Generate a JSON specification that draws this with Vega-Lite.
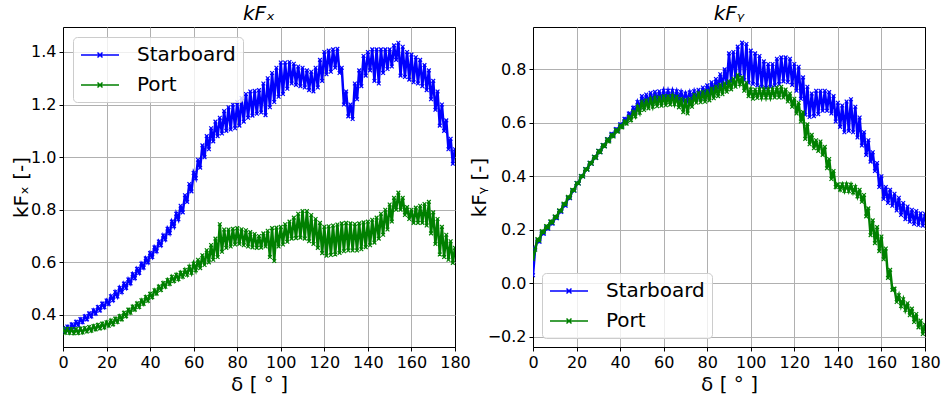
{
"$schema":"https://vega.github.io/schema/vega-lite/v6.json",
"padding":{"left":10,"top":3,"right":5,"bottom":5},
"background":"white",
"datasets":{"pts":[
{"d":0,"xS":0.35,"xP":0.348,"yS":0.03,"yP":0.09},
{"d":1,"xS":0.338,"xP":0.332,"yS":0.13,"yP":0.125},
{"d":2,"xS":0.356,"xP":0.347,"yS":0.16,"yP":0.165},
{"d":3,"xS":0.343,"xP":0.331,"yS":0.155,"yP":0.16},
{"d":4,"xS":0.364,"xP":0.346,"yS":0.19,"yP":0.195},
{"d":5,"xS":0.352,"xP":0.33,"yS":0.185,"yP":0.19},
{"d":6,"xS":0.374,"xP":0.346,"yS":0.209,"yP":0.214},
{"d":7,"xS":0.362,"xP":0.331,"yS":0.204,"yP":0.208},
{"d":8,"xS":0.384,"xP":0.348,"yS":0.229,"yP":0.232},
{"d":9,"xS":0.372,"xP":0.333,"yS":0.223,"yP":0.226},
{"d":10,"xS":0.395,"xP":0.35,"yS":0.248,"yP":0.25},
{"d":11,"xS":0.383,"xP":0.337,"yS":0.243,"yP":0.246},
{"d":12,"xS":0.406,"xP":0.354,"yS":0.27,"yP":0.273},
{"d":13,"xS":0.394,"xP":0.34,"yS":0.267,"yP":0.27},
{"d":14,"xS":0.418,"xP":0.358,"yS":0.294,"yP":0.298},
{"d":15,"xS":0.405,"xP":0.345,"yS":0.29,"yP":0.295},
{"d":16,"xS":0.43,"xP":0.362,"yS":0.319,"yP":0.323},
{"d":17,"xS":0.417,"xP":0.349,"yS":0.318,"yP":0.32},
{"d":18,"xS":0.443,"xP":0.367,"yS":0.347,"yP":0.35},
{"d":19,"xS":0.429,"xP":0.352,"yS":0.346,"yP":0.347},
{"d":20,"xS":0.455,"xP":0.372,"yS":0.375,"yP":0.375},
{"d":21,"xS":0.442,"xP":0.359,"yS":0.373,"yP":0.373},
{"d":22,"xS":0.471,"xP":0.379,"yS":0.401,"yP":0.401},
{"d":23,"xS":0.456,"xP":0.364,"yS":0.399,"yP":0.399},
{"d":24,"xS":0.487,"xP":0.386,"yS":0.427,"yP":0.427},
{"d":25,"xS":0.47,"xP":0.373,"yS":0.425,"yP":0.425},
{"d":26,"xS":0.503,"xP":0.396,"yS":0.451,"yP":0.451},
{"d":27,"xS":0.487,"xP":0.383,"yS":0.447,"yP":0.447},
{"d":28,"xS":0.519,"xP":0.408,"yS":0.473,"yP":0.473},
{"d":29,"xS":0.503,"xP":0.395,"yS":0.469,"yP":0.469},
{"d":30,"xS":0.535,"xP":0.42,"yS":0.495,"yP":0.495},
{"d":31,"xS":0.52,"xP":0.408,"yS":0.49,"yP":0.49},
{"d":32,"xS":0.555,"xP":0.432,"yS":0.517,"yP":0.517},
{"d":33,"xS":0.54,"xP":0.42,"yS":0.513,"yP":0.512},
{"d":34,"xS":0.575,"xP":0.444,"yS":0.539,"yP":0.538},
{"d":35,"xS":0.56,"xP":0.43,"yS":0.535,"yP":0.53},
{"d":36,"xS":0.595,"xP":0.456,"yS":0.559,"yP":0.555},
{"d":37,"xS":0.58,"xP":0.442,"yS":0.553,"yP":0.549},
{"d":38,"xS":0.615,"xP":0.468,"yS":0.577,"yP":0.573},
{"d":39,"xS":0.6,"xP":0.454,"yS":0.571,"yP":0.567},
{"d":40,"xS":0.635,"xP":0.48,"yS":0.595,"yP":0.59},
{"d":41,"xS":0.62,"xP":0.467,"yS":0.589,"yP":0.583},
{"d":42,"xS":0.657,"xP":0.494,"yS":0.615,"yP":0.606},
{"d":43,"xS":0.642,"xP":0.481,"yS":0.607,"yP":0.597},
{"d":44,"xS":0.679,"xP":0.508,"yS":0.635,"yP":0.622},
{"d":45,"xS":0.665,"xP":0.495,"yS":0.625,"yP":0.61},
{"d":46,"xS":0.702,"xP":0.521,"yS":0.656,"yP":0.64},
{"d":47,"xS":0.687,"xP":0.507,"yS":0.641,"yP":0.624},
{"d":48,"xS":0.728,"xP":0.533,"yS":0.678,"yP":0.66},
{"d":49,"xS":0.711,"xP":0.518,"yS":0.657,"yP":0.638},
{"d":50,"xS":0.755,"xP":0.545,"yS":0.7,"yP":0.68},
{"d":51,"xS":0.737,"xP":0.529,"yS":0.668,"yP":0.648},
{"d":52,"xS":0.785,"xP":0.553,"yS":0.706,"yP":0.684},
{"d":53,"xS":0.764,"xP":0.536,"yS":0.674,"yP":0.654},
{"d":54,"xS":0.815,"xP":0.561,"yS":0.712,"yP":0.688},
{"d":55,"xS":0.79,"xP":0.545,"yS":0.68,"yP":0.66},
{"d":56,"xS":0.855,"xP":0.571,"yS":0.716,"yP":0.692},
{"d":57,"xS":0.83,"xP":0.553,"yS":0.684,"yP":0.662},
{"d":58,"xS":0.898,"xP":0.583,"yS":0.718,"yP":0.696},
{"d":59,"xS":0.87,"xP":0.56,"yS":0.688,"yP":0.664},
{"d":60,"xS":0.94,"xP":0.595,"yS":0.72,"yP":0.7},
{"d":61,"xS":0.92,"xP":0.57,"yS":0.69,"yP":0.666},
{"d":62,"xS":0.99,"xP":0.61,"yS":0.72,"yP":0.7},
{"d":63,"xS":0.96,"xP":0.578,"yS":0.69,"yP":0.668},
{"d":64,"xS":1.045,"xP":0.627,"yS":0.72,"yP":0.7},
{"d":65,"xS":1.0,"xP":0.59,"yS":0.69,"yP":0.67},
{"d":66,"xS":1.08,"xP":0.646,"yS":0.718,"yP":0.698},
{"d":67,"xS":1.03,"xP":0.6,"yS":0.688,"yP":0.658},
{"d":68,"xS":1.11,"xP":0.666,"yS":0.715,"yP":0.69},
{"d":69,"xS":1.06,"xP":0.61,"yS":0.686,"yP":0.64},
{"d":70,"xS":1.135,"xP":0.69,"yS":0.71,"yP":0.685},
{"d":71,"xS":1.08,"xP":0.62,"yS":0.685,"yP":0.635},
{"d":72,"xS":1.15,"xP":0.745,"yS":0.714,"yP":0.69},
{"d":73,"xS":1.09,"xP":0.64,"yS":0.688,"yP":0.66},
{"d":74,"xS":1.175,"xP":0.725,"yS":0.718,"yP":0.705},
{"d":75,"xS":1.1,"xP":0.655,"yS":0.69,"yP":0.675},
{"d":76,"xS":1.19,"xP":0.725,"yS":0.724,"yP":0.712},
{"d":77,"xS":1.105,"xP":0.66,"yS":0.693,"yP":0.677},
{"d":78,"xS":1.2,"xP":0.728,"yS":0.732,"yP":0.716},
{"d":79,"xS":1.11,"xP":0.668,"yS":0.7,"yP":0.679},
{"d":80,"xS":1.21,"xP":0.73,"yS":0.74,"yP":0.72},
{"d":81,"xS":1.12,"xP":0.67,"yS":0.71,"yP":0.684},
{"d":82,"xS":1.225,"xP":0.726,"yS":0.752,"yP":0.728},
{"d":83,"xS":1.135,"xP":0.665,"yS":0.716,"yP":0.692},
{"d":84,"xS":1.24,"xP":0.722,"yS":0.764,"yP":0.736},
{"d":85,"xS":1.15,"xP":0.66,"yS":0.73,"yP":0.7},
{"d":86,"xS":1.25,"xP":0.715,"yS":0.782,"yP":0.742},
{"d":87,"xS":1.158,"xP":0.657,"yS":0.735,"yP":0.707},
{"d":88,"xS":1.252,"xP":0.708,"yS":0.8,"yP":0.748},
{"d":89,"xS":1.165,"xP":0.655,"yS":0.745,"yP":0.716},
{"d":90,"xS":1.255,"xP":0.7,"yS":0.86,"yP":0.755},
{"d":91,"xS":1.17,"xP":0.656,"yS":0.755,"yP":0.725},
{"d":92,"xS":1.28,"xP":0.71,"yS":0.865,"yP":0.765},
{"d":93,"xS":1.16,"xP":0.66,"yS":0.77,"yP":0.735},
{"d":94,"xS":1.3,"xP":0.72,"yS":0.885,"yP":0.78},
{"d":95,"xS":1.19,"xP":0.62,"yS":0.775,"yP":0.745},
{"d":96,"xS":1.32,"xP":0.73,"yS":0.9,"yP":0.77},
{"d":97,"xS":1.21,"xP":0.605,"yS":0.76,"yP":0.72},
{"d":98,"xS":1.34,"xP":0.732,"yS":0.895,"yP":0.75},
{"d":99,"xS":1.23,"xP":0.66,"yS":0.75,"yP":0.7},
{"d":100,"xS":1.36,"xP":0.735,"yS":0.87,"yP":0.725},
{"d":101,"xS":1.24,"xP":0.668,"yS":0.745,"yP":0.69},
{"d":102,"xS":1.36,"xP":0.745,"yS":0.86,"yP":0.725},
{"d":103,"xS":1.26,"xP":0.678,"yS":0.74,"yP":0.693},
{"d":104,"xS":1.362,"xP":0.755,"yS":0.85,"yP":0.725},
{"d":105,"xS":1.28,"xP":0.69,"yS":0.735,"yP":0.695},
{"d":106,"xS":1.355,"xP":0.77,"yS":0.83,"yP":0.725},
{"d":107,"xS":1.275,"xP":0.692,"yS":0.73,"yP":0.695},
{"d":108,"xS":1.345,"xP":0.785,"yS":0.82,"yP":0.725},
{"d":109,"xS":1.27,"xP":0.694,"yS":0.735,"yP":0.695},
{"d":110,"xS":1.34,"xP":0.795,"yS":0.82,"yP":0.725},
{"d":111,"xS":1.265,"xP":0.69,"yS":0.74,"yP":0.695},
{"d":112,"xS":1.33,"xP":0.795,"yS":0.84,"yP":0.732},
{"d":113,"xS":1.255,"xP":0.68,"yS":0.745,"yP":0.695},
{"d":114,"xS":1.325,"xP":0.78,"yS":0.845,"yP":0.735},
{"d":115,"xS":1.25,"xP":0.67,"yS":0.755,"yP":0.695},
{"d":116,"xS":1.34,"xP":0.765,"yS":0.845,"yP":0.725},
{"d":117,"xS":1.265,"xP":0.655,"yS":0.752,"yP":0.68},
{"d":118,"xS":1.37,"xP":0.75,"yS":0.84,"yP":0.71},
{"d":119,"xS":1.29,"xP":0.635,"yS":0.742,"yP":0.66},
{"d":120,"xS":1.4,"xP":0.735,"yS":0.82,"yP":0.69},
{"d":121,"xS":1.315,"xP":0.625,"yS":0.72,"yP":0.635},
{"d":122,"xS":1.405,"xP":0.737,"yS":0.81,"yP":0.675},
{"d":123,"xS":1.325,"xP":0.628,"yS":0.69,"yP":0.605},
{"d":124,"xS":1.41,"xP":0.74,"yS":0.77,"yP":0.64},
{"d":125,"xS":1.34,"xP":0.63,"yS":0.63,"yP":0.54},
{"d":126,"xS":1.412,"xP":0.744,"yS":0.735,"yP":0.595},
{"d":127,"xS":1.32,"xP":0.636,"yS":0.622,"yP":0.52},
{"d":128,"xS":1.34,"xP":0.748,"yS":0.71,"yP":0.555},
{"d":129,"xS":1.2,"xP":0.642,"yS":0.625,"yP":0.505},
{"d":130,"xS":1.25,"xP":0.75,"yS":0.72,"yP":0.535},
{"d":131,"xS":1.155,"xP":0.645,"yS":0.632,"yP":0.495},
{"d":132,"xS":1.2,"xP":0.748,"yS":0.72,"yP":0.53},
{"d":133,"xS":1.145,"xP":0.645,"yS":0.645,"yP":0.48},
{"d":134,"xS":1.28,"xP":0.746,"yS":0.72,"yP":0.51},
{"d":135,"xS":1.22,"xP":0.645,"yS":0.645,"yP":0.43},
{"d":136,"xS":1.33,"xP":0.748,"yS":0.715,"yP":0.465},
{"d":137,"xS":1.27,"xP":0.65,"yS":0.635,"yP":0.39},
{"d":138,"xS":1.385,"xP":0.752,"yS":0.7,"yP":0.42},
{"d":139,"xS":1.31,"xP":0.658,"yS":0.605,"yP":0.36},
{"d":140,"xS":1.4,"xP":0.755,"yS":0.675,"yP":0.37},
{"d":141,"xS":1.33,"xP":0.665,"yS":0.585,"yP":0.35},
{"d":142,"xS":1.41,"xP":0.762,"yS":0.665,"yP":0.37},
{"d":143,"xS":1.29,"xP":0.675,"yS":0.565,"yP":0.345},
{"d":144,"xS":1.41,"xP":0.77,"yS":0.68,"yP":0.37},
{"d":145,"xS":1.28,"xP":0.69,"yS":0.57,"yP":0.345},
{"d":146,"xS":1.41,"xP":0.785,"yS":0.688,"yP":0.368},
{"d":147,"xS":1.32,"xP":0.705,"yS":0.565,"yP":0.34},
{"d":148,"xS":1.41,"xP":0.8,"yS":0.66,"yP":0.36},
{"d":149,"xS":1.335,"xP":0.725,"yS":0.545,"yP":0.325},
{"d":150,"xS":1.41,"xP":0.82,"yS":0.62,"yP":0.35},
{"d":151,"xS":1.345,"xP":0.755,"yS":0.515,"yP":0.305},
{"d":152,"xS":1.425,"xP":0.845,"yS":0.565,"yP":0.33},
{"d":153,"xS":1.37,"xP":0.8,"yS":0.48,"yP":0.25},
{"d":154,"xS":1.435,"xP":0.865,"yS":0.535,"yP":0.28},
{"d":155,"xS":1.31,"xP":0.8,"yS":0.455,"yP":0.18},
{"d":156,"xS":1.42,"xP":0.845,"yS":0.49,"yP":0.235},
{"d":157,"xS":1.305,"xP":0.78,"yS":0.42,"yP":0.15},
{"d":158,"xS":1.4,"xP":0.81,"yS":0.45,"yP":0.21},
{"d":159,"xS":1.295,"xP":0.765,"yS":0.36,"yP":0.12},
{"d":160,"xS":1.39,"xP":0.8,"yS":0.4,"yP":0.175},
{"d":161,"xS":1.285,"xP":0.75,"yS":0.315,"yP":0.09},
{"d":162,"xS":1.38,"xP":0.808,"yS":0.36,"yP":0.13},
{"d":163,"xS":1.28,"xP":0.75,"yS":0.3,"yP":0.02},
{"d":164,"xS":1.37,"xP":0.815,"yS":0.35,"yP":0.05},
{"d":165,"xS":1.27,"xP":0.75,"yS":0.29,"yP":-0.025},
{"d":166,"xS":1.35,"xP":0.822,"yS":0.335,"yP":-0.02},
{"d":167,"xS":1.255,"xP":0.74,"yS":0.272,"yP":-0.07},
{"d":168,"xS":1.33,"xP":0.83,"yS":0.32,"yP":-0.045},
{"d":169,"xS":1.22,"xP":0.71,"yS":0.255,"yP":-0.085},
{"d":170,"xS":1.29,"xP":0.79,"yS":0.3,"yP":-0.06},
{"d":171,"xS":1.18,"xP":0.67,"yS":0.24,"yP":-0.1},
{"d":172,"xS":1.25,"xP":0.765,"yS":0.287,"yP":-0.075},
{"d":173,"xS":1.12,"xP":0.63,"yS":0.23,"yP":-0.12},
{"d":174,"xS":1.2,"xP":0.735,"yS":0.275,"yP":-0.095},
{"d":175,"xS":1.1,"xP":0.62,"yS":0.222,"yP":-0.145},
{"d":176,"xS":1.14,"xP":0.705,"yS":0.27,"yP":-0.115},
{"d":177,"xS":1.03,"xP":0.61,"yS":0.218,"yP":-0.165},
{"d":178,"xS":1.07,"xP":0.68,"yS":0.262,"yP":-0.14},
{"d":179,"xS":0.975,"xP":0.598,"yS":0.215,"yP":-0.19},
{"d":180,"xS":1.03,"xP":0.655,"yS":0.26,"yP":-0.155}
]},
"spacing":78,
"bounds":"flush",
"resolve":{"scale":{"color":"independent"},"legend":{"color":"independent"}},
"hconcat":[
{
"width":392,"height":320,
"data":{"name":"pts"},
"title":{"text":"kFₓ","fontStyle":"italic"},
"layer":[
{"mark":{"type":"line","strokeWidth":2.5,"clip":true,"point":{"shape":"M-1,-1L1,1M-1,1L1,-1","filled":false,"size":14,"strokeWidth":1.2,"clip":true}},
"encoding":{
"x":{"field":"d","type":"quantitative","scale":{"domain":[0,180],"nice":false,"zero":false},"axis":{"title":"δ [ ° ]","values":[0,20,40,60,80,100,120,140,160,180]}},
"y":{"field":"xS","type":"quantitative","scale":{"domain":[0.278,1.495],"nice":false,"zero":false},"axis":{"title":"kFₓ [-]","values":[0.4,0.6,0.8,1.0,1.2,1.4],"format":".1f","minExtent":30,"maxExtent":30}},
"color":{"datum":"Starboard","scale":{"domain":["Starboard","Port"],"range":["#0000ff","#008000"]},"legend":{"orient":"top-left","offset":10,"title":null}}}},
{"mark":{"type":"line","strokeWidth":2.5,"clip":true,"point":{"shape":"M-1,-1L1,1M-1,1L1,-1","filled":false,"size":14,"strokeWidth":1.2,"clip":true}},
"encoding":{
"x":{"field":"d","type":"quantitative","scale":{"domain":[0,180],"nice":false,"zero":false},"axis":{"title":"δ [ ° ]","values":[0,20,40,60,80,100,120,140,160,180]}},
"y":{"field":"xP","type":"quantitative","scale":{"domain":[0.278,1.495],"nice":false,"zero":false},"axis":{"title":"kFₓ [-]","values":[0.4,0.6,0.8,1.0,1.2,1.4],"format":".1f","minExtent":30,"maxExtent":30}},
"color":{"datum":"Port","scale":{"domain":["Starboard","Port"],"range":["#0000ff","#008000"]},"legend":{"orient":"top-left","offset":10,"title":null}}}}
]
},
{
"width":392,"height":320,
"data":{"name":"pts"},
"title":{"text":"kFᵧ","fontStyle":"italic"},
"layer":[
{"mark":{"type":"line","strokeWidth":2.5,"clip":true,"point":{"shape":"M-1,-1L1,1M-1,1L1,-1","filled":false,"size":14,"strokeWidth":1.2,"clip":true}},
"encoding":{
"x":{"field":"d","type":"quantitative","scale":{"domain":[0,180],"nice":false,"zero":false},"axis":{"title":"δ [ ° ]","values":[0,20,40,60,80,100,120,140,160,180]}},
"y":{"field":"yS","type":"quantitative","scale":{"domain":[-0.2385,0.9585],"nice":false,"zero":false},"axis":{"title":"kFᵧ [-]","values":[-0.2,0.0,0.2,0.4,0.6,0.8],"format":".1f","minExtent":42,"maxExtent":42}},
"color":{"datum":"Starboard","scale":{"domain":["Starboard","Port"],"range":["#0000ff","#008000"]},"legend":{"orient":"bottom-left","offset":9,"title":null}}}},
{"mark":{"type":"line","strokeWidth":2.5,"clip":true,"point":{"shape":"M-1,-1L1,1M-1,1L1,-1","filled":false,"size":14,"strokeWidth":1.2,"clip":true}},
"encoding":{
"x":{"field":"d","type":"quantitative","scale":{"domain":[0,180],"nice":false,"zero":false},"axis":{"title":"δ [ ° ]","values":[0,20,40,60,80,100,120,140,160,180]}},
"y":{"field":"yP","type":"quantitative","scale":{"domain":[-0.2385,0.9585],"nice":false,"zero":false},"axis":{"title":"kFᵧ [-]","values":[-0.2,0.0,0.2,0.4,0.6,0.8],"format":".1f","minExtent":42,"maxExtent":42}},
"color":{"datum":"Port","scale":{"domain":["Starboard","Port"],"range":["#0000ff","#008000"]},"legend":{"orient":"bottom-left","offset":9,"title":null}}}}
]
}
],
"config":{
"font":"DejaVu Sans",
"view":{"stroke":"black","strokeWidth":1},
"title":{"fontSize":20,"fontWeight":"normal","offset":3,"color":"black","font":"DejaVu Sans"},
"axis":{"labelFontSize":16,"titleFontSize":20,"titleFontWeight":"normal","labelColor":"black","titleColor":"black","domainColor":"black","tickColor":"black","tickSize":4,"labelPadding":3,"titlePadding":2,"gridColor":{"condition":{"test":"datum.value==180","value":"black"},"value":"#b0b0b0"},"gridWidth":1,"labelFlush":false,"labelOverlap":false,"labelFont":"DejaVu Sans","titleFont":"DejaVu Sans"},
"axisX":{"titlePadding":4},
"legend":{"labelFontSize":20,"labelColor":"black","labelFont":"DejaVu Sans","fillColor":"rgba(255,255,255,0.8)","strokeColor":"#cccccc","cornerRadius":4,"padding":7,"symbolSize":400,"symbolType":"M-1,0H2.8M0.65,-0.25L1.15,0.25M0.65,0.25L1.15,-0.25","symbolStrokeWidth":1.5,"labelOffset":35,"rowPadding":9}
}
}
